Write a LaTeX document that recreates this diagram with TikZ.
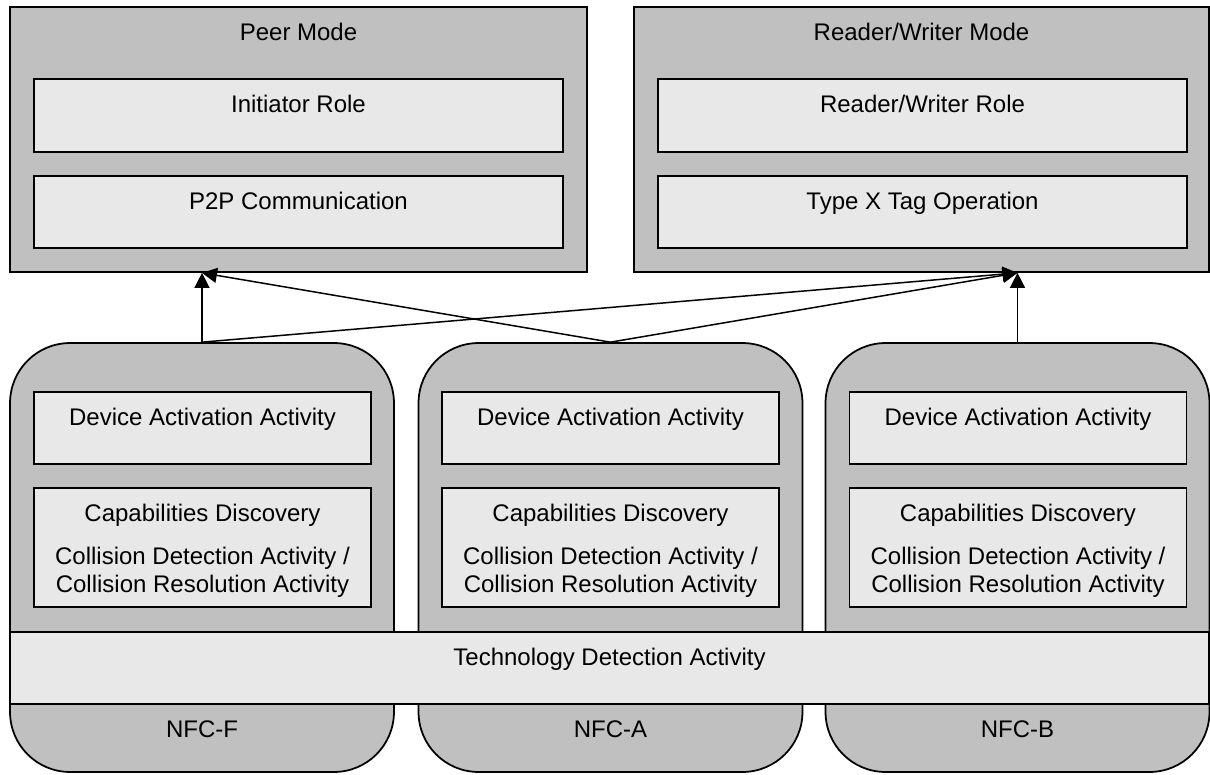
\documentclass[tikz,border=0pt]{standalone}
\usepackage{fontspec}
\setmainfont{Liberation Sans}
\usepackage{tikz}
\usetikzlibrary{positioning,arrows.meta}
\definecolor{modegray}{RGB}{192,192,192}
\definecolor{boxgray}{RGB}{232,232,232}

\begin{document}
\begin{tikzpicture}[x=0.02cm,y=-0.02cm]
\tikzstyle{mode}=[rectangle, line width=1pt, draw=black, fill=modegray, inner sep=0pt]
\tikzstyle{tech}=[rectangle, rounded corners=1.2cm, line width=1pt, draw=black, fill=modegray, inner sep=0pt, minimum width=7.68cm, minimum height=8.58cm]
\tikzstyle{box}=[rectangle, line width=1pt, draw=black, fill=boxgray, inner sep=0pt]
\tikzstyle{txt}=[anchor=base, inner sep=0pt, align=center, font=\fontsize{13.66pt}{15.4pt}\selectfont]
\tikzstyle{connect}=[-{Triangle[length=8.5pt,width=8.5pt]}, line width=0.85pt]
\useasboundingbox (0,0) rectangle (1210,774);
	% modes
	\node[mode, minimum width=11.54cm, minimum height=5.3cm] (peer) at (298.5,139.5) {};
	\node[mode, minimum width=11.5cm, minimum height=5.3cm] (rw) at (921.5,139.5) {};
	\node[box, minimum width=10.58cm, minimum height=1.46cm] (init) at (298.5,115.5) {};
	\node[box, minimum width=10.58cm, minimum height=1.44cm] (p2p) at (298.5,212) {};
	\node[box, minimum width=10.58cm, minimum height=1.46cm] (rwrole) at (922.5,115.5) {};
	\node[box, minimum width=10.58cm, minimum height=1.44cm] (tagop) at (922.5,212) {};
	\node[txt] (peer_t) at (298.5,40) {Peer Mode};
	\node[txt] (rw_t) at (921.5,40) {Reader/Writer Mode};
	\node[txt] (init_t) at (298.5,112) {Initiator Role};
	\node[txt] (p2p_t) at (298.5,209) {P2P Communication};
	\node[txt] (rwrole_t) at (922.5,112) {Reader/Writer Role};
	\node[txt] (tagop_t) at (922.5,209) {Type X Tag Operation};

	% technologies
	\node[tech] (nfcf) at (202,557.5) {};
	\node[tech] (nfca) at (610.5,557.5) {};
	\node[tech] (nfcb) at (1017.5,557.5) {};
	\foreach \n/\x in {f/202.5, a/610.5, b/1018}{
		\node[box, minimum width=6.74cm, minimum height=1.44cm] (dev_\n) at (\x,428) {};
		\node[box, minimum width=6.74cm, minimum height=2.38cm] (cap_\n) at (\x,547.5) {};
		\node[txt] (dev_t\n) at (\x,425) {Device Activation Activity};
		\node[txt] (cap_t\n) at (\x,521) {Capabilities Discovery};
		\node[txt] (col_t\n) at (\x,592) {Collision Detection Activity /\\Collision Resolution Activity};
	}
	\node[box, minimum width=23.98cm, minimum height=1.44cm] (techdet) at (609.5,668) {};
	\node[txt] (techdet_t) at (609.5,665) {Technology Detection Activity};
	\node[txt] (nfcf_t) at (202,737) {NFC-F};
	\node[txt] (nfca_t) at (610.5,737) {NFC-A};
	\node[txt] (nfcb_t) at (1017.5,737) {NFC-B};

	\path[connect]
		(nfcf.north) edge [] (nfcf.north |- peer.south)
		(nfca.north) edge [] (nfcf.north |- peer.south)
		(nfca.north) edge [] (nfcb.north |- rw.south)
		(nfcf.north) edge [] (nfcb.north |- rw.south)
		(nfcb.north) edge [] (nfcb.north |- rw.south);

\end{tikzpicture}
\end{document}
